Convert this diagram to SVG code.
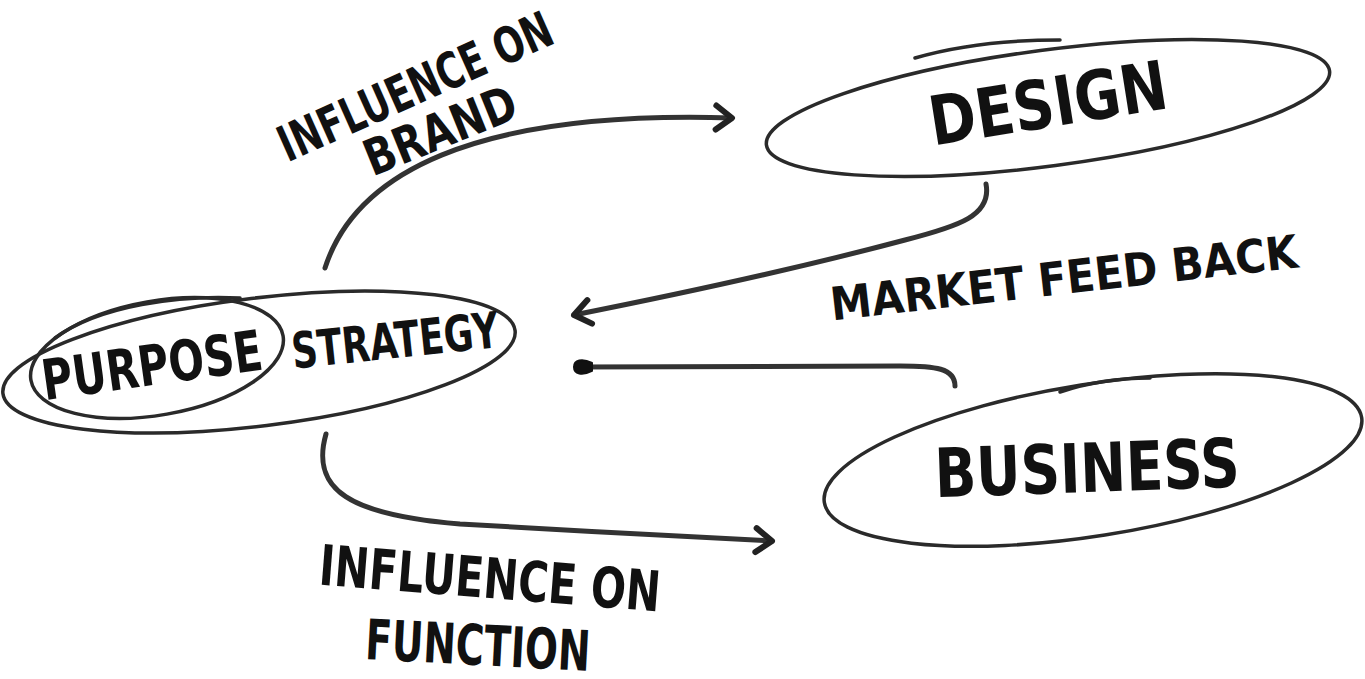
<svg xmlns="http://www.w3.org/2000/svg" width="1365" height="679" viewBox="0 0 1365 679">
<style>
.node{fill:none;stroke:#2a2a2a;stroke-width:3.5;stroke-linecap:round}
.lbl{font-family:"DejaVu Sans","Liberation Sans",sans-serif;font-weight:bold;fill:#111;text-anchor:middle}
.con{fill:none;stroke:#333;stroke-width:5;stroke-linecap:round}
</style>
<defs>
<marker id="chev" markerUnits="userSpaceOnUse" markerWidth="40" markerHeight="40" refX="0" refY="0" viewBox="-25 -20 40 40" orient="auto" overflow="visible">
<path d="M-16,-12 L0,0 L-16,12" fill="none" stroke="#222" stroke-width="6" stroke-linecap="round" stroke-linejoin="round"/>
</marker>
<marker id="blob" markerUnits="userSpaceOnUse" markerWidth="40" markerHeight="40" refX="0" refY="0" viewBox="-25 -20 40 40" orient="auto" overflow="visible">
<path d="M4,0 C4,-7 -4,-9 -14,-4 L-14,4 C-4,9 4,7 4,0 Z" fill="#111" stroke="#111" stroke-width="2" stroke-linejoin="round"/>
</marker>
</defs>
<rect width="1365" height="679" fill="#fff"/>

<g id="design">
<ellipse class="node" cx="1048" cy="108" rx="284" ry="58" transform="rotate(-7.5 1048 108)"/>
<path class="node" d="M915,58 C960,45 1010,40 1060,40"/>
<text class="lbl" font-size="68" textLength="240" lengthAdjust="spacingAndGlyphs" transform="translate(1048,103) rotate(-9)" y="24">DESIGN</text>
</g>

<g id="business">
<ellipse class="node" cx="1093" cy="460" rx="272" ry="76" transform="rotate(-9 1093 460)"/>
<path class="node" d="M1060,392 C1090,382 1120,378 1150,378"/>
<text class="lbl" font-size="68" textLength="305" lengthAdjust="spacingAndGlyphs" transform="translate(1087,468) rotate(-2)" y="24">BUSINESS</text>
</g>

<g id="purpose-strategy">
<ellipse class="node" cx="259" cy="362" rx="258" ry="64" transform="rotate(-7 259 362)"/>
<ellipse class="node" cx="157" cy="358" rx="128" ry="57" transform="rotate(-10 157 358)"/>
<path class="node" d="M55,338 C100,305 180,295 240,298" stroke-width="5"/>
<text class="lbl" font-size="56" textLength="222" lengthAdjust="spacingAndGlyphs" transform="translate(152,365) rotate(-8)" y="20">PURPOSE</text>
<text class="lbl" font-size="50" textLength="208" lengthAdjust="spacingAndGlyphs" transform="translate(395,340) rotate(-6)" y="18">STRATEGY</text>
</g>

<g id="connectors">
<path class="con" d="M325,268 C355,175 470,110 732,118" marker-end="url(#chev)"/>
<path class="con" d="M986,184 C992,215 960,226 905,240 C800,268 700,290 574,315" marker-end="url(#chev)"/>
<path class="con" d="M955,386 C955,368 935,366 900,366 L578,367" marker-end="url(#blob)"/>
<path class="con" d="M326,434 C310,490 350,515 460,524 C560,530 680,536 772,541" marker-end="url(#chev)"/>
</g>

<g id="labels">
<text class="lbl" font-size="50" textLength="295" lengthAdjust="spacingAndGlyphs" transform="translate(415,86) rotate(-24)" y="18">INFLUENCE ON</text>
<text class="lbl" font-size="50" textLength="160" lengthAdjust="spacingAndGlyphs" transform="translate(440,130) rotate(-22)" y="18">BRAND</text>
<text class="lbl" font-size="46" textLength="470" lengthAdjust="spacingAndGlyphs" transform="translate(1064,278) rotate(-6.5)" y="16">MARKET FEED BACK</text>
<text class="lbl" font-size="56" textLength="342" lengthAdjust="spacingAndGlyphs" transform="translate(490,578) rotate(4.5)" y="20">INFLUENCE ON</text>
<text class="lbl" font-size="56" textLength="225" lengthAdjust="spacingAndGlyphs" transform="translate(478,645) rotate(3)" y="20">FUNCTION</text>
</g>
</svg>
